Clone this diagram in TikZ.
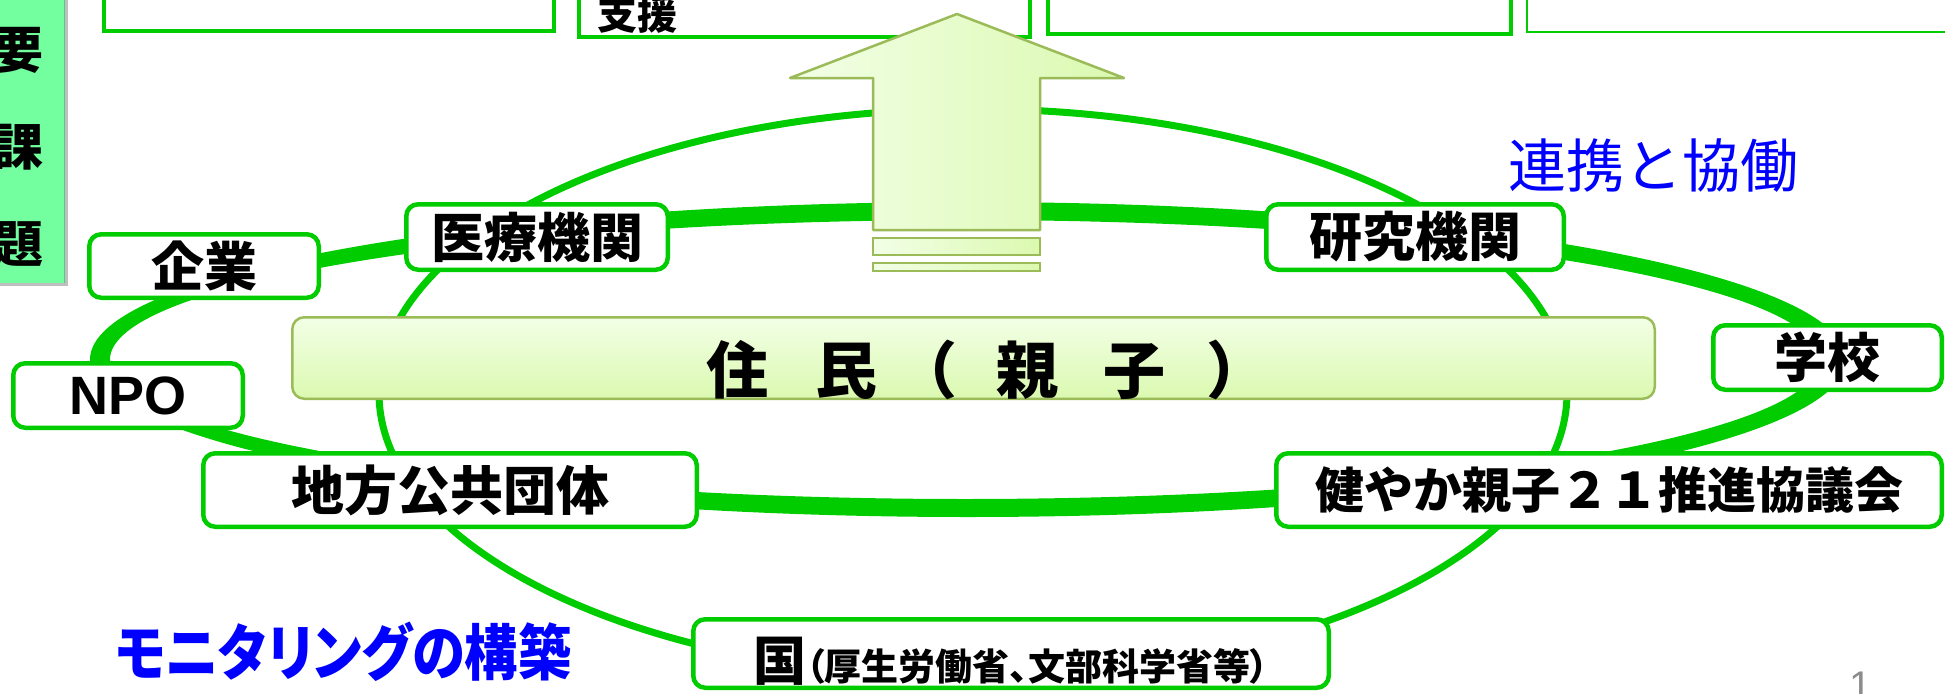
\documentclass[tikz,border=0pt]{standalone}
\usepackage{fontspec}
\newfontfamily\jp{Noto Sans CJK JP}
\newfontfamily\jpp{Noto Sans CJK JP}[RawFeature=+palt]
\newfontfamily\jpnarrow{Noto Sans CJK JP}[RawFeature=+palt, FakeStretch=0.875]
\newfontfamily\lsans{Liberation Sans}
\definecolor{ringgreen}{RGB}{0,204,0}
\definecolor{arrowedge}{RGB}{155,187,89}
\definecolor{mintfill}{RGB}{115,255,160}
\definecolor{mintedge}{RGB}{90,200,130}
\definecolor{lightA}{RGB}{242,255,230}
\definecolor{lightB}{RGB}{219,249,176}
\definecolor{bluetxt}{RGB}{0,0,255}
\definecolor{pagegray}{RGB}{140,140,140}
\begin{document}
\begin{tikzpicture}[x=1pt,y=-1pt,
  orgbox/.style={draw=ringgreen, line width=4.5pt, rounded corners=12pt, fill=white, inner sep=0pt, font=\jp\bfseries\fontsize{53}{60}\selectfont},
  topbox/.style={draw=ringgreen, line width=4.5pt, fill=white},
  thinring/.style={draw=ringgreen, line width=7pt},
  softedge/.style={draw=arrowedge, line width=2.5pt, left color=lightA, right color=lightB},
  bluetext/.style={text=bluetxt, inner sep=0pt}
]
\useasboundingbox (0,0) rectangle (1945,693);
\clip (0,0) rectangle (1945,693);
\fill[white] (0,0) rectangle (1945,693);

% top boxes (cut off by the top edge)
\draw[topbox] (104,-20) rectangle (554,31);
\draw[topbox] (579,-20) rectangle (1030,37);
\draw[topbox] (1048,-20) rectangle (1511,34);
\draw[topbox, line width=2.5pt] (1527,-20) rectangle (1990,32);
\node[inner sep=0pt, font=\jp\bfseries\fontsize{40}{44}\selectfont] (shien) at (637.5,14) {支援};

% side box
\fill[black!25] (-10,-10) rectangle (68,286);
\fill[mintfill] (-10,-10) rectangle (65,283);
\draw[mintedge, line width=1.5pt] (64.5,-10) -- (64.5,283);
\node[inner sep=0pt, align=center, font=\jp\bfseries\fontsize{50}{97}\selectfont] (yokadai) at (19,147) {要\\課\\題};

% rings
\coordinate (ringc) at (965,359.5);
\coordinate (ringo) at (968,359.5);
\coordinate (thinc) at (973,393);
\draw[thinring] (thinc) ellipse [x radius=594pt, y radius=284pt];
\fill[ringgreen, even odd rule] (ringo) ellipse [x radius=878pt, y radius=157.5pt]
                                (ringc) ellipse [x radius=855pt, y radius=139.5pt];

% residents box
\node[draw=arrowedge, line width=2.5pt, rounded corners=12pt, top color=lightA, bottom color=lightB,
      minimum width=1362.5pt, minimum height=81.5pt, inner sep=0pt, text height=70pt, text depth=0pt,
      font=\jp\bfseries\fontsize{62}{66}\selectfont] (jumin) at (973.5,358)
  {\hspace*{27.6pt}住\hspace{47pt}民\hspace{18.4pt}（\hspace{39.6pt}親\hspace{45pt}子\hspace{40.6pt}）};

% up arrow
\draw[softedge, line join=round] (873,230) -- (873,78) -- (790,78) -- (957,14) -- (1124,78) -- (1040,78) -- (1040,230) -- cycle;
\draw[softedge] (873,238) rectangle (1040,255);
\draw[softedge] (873,263) rectangle (1040,271);

% organisations
\node[orgbox, minimum width=229.5pt, minimum height=63.5pt] (kigyo) at (204,266) {企業};
\node[orgbox, minimum width=261.5pt, minimum height=65.5pt] (iryo) at (537,237) {医療機関};
\node[orgbox, minimum width=297.5pt, minimum height=65.5pt] (kenkyu) at (1415,237) {研究機関};
\node[orgbox, minimum width=228.5pt, minimum height=64.5pt] (gakko) at (1827.5,357.5) {学校};
\node[orgbox, minimum width=229.5pt, minimum height=64.5pt, font=\lsans\bfseries\fontsize{54}{60}\selectfont] (npo) at (128,395.5) {NPO};
\node[orgbox, minimum width=493.5pt, minimum height=73.5pt] (chiho) at (450,490) {地方公共団体};
\node[orgbox, minimum width=665.5pt, minimum height=73.5pt, font=\jp\bfseries\fontsize{49}{56}\selectfont] (sukoyaka) at (1609,490) {健やか親子２１推進協議会};
\node[orgbox, minimum width=635.5pt, minimum height=68.5pt, text height=54pt, text depth=0pt] (kuni) at (1011,653.5)
  {国{\jpp\fontsize{37}{40}\selectfont （厚生労働省、文部科学省等）}};

% captions
\node[bluetext, font=\jp\fontsize{58}{62}\selectfont] (renkei) at (1653,165.5) {連携と協働};
\node[bluetext, font=\jpnarrow\bfseries\fontsize{61}{66}\selectfont] (monitor) at (343.5,652) {モニタリングの構築};
\node[inner sep=0pt, anchor=north, text=pagegray, font=\lsans\fontsize{40}{44}\selectfont] (pagenum) at (1860.5,672) {1};
\end{tikzpicture}
\end{document}
